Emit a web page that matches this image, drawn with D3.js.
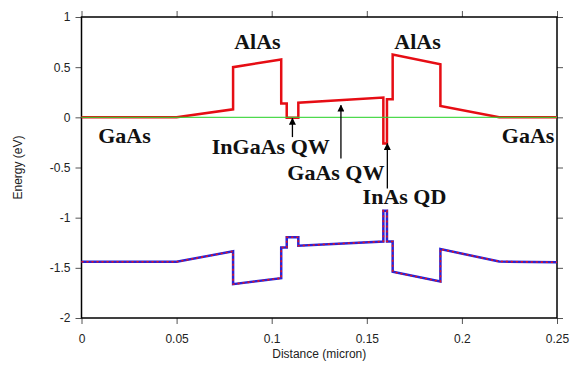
<!DOCTYPE html>
<html>
<head>
<meta charset="utf-8">
<script src="https://cdn.jsdelivr.net/npm/d3@7"></script>
<style>
  body { margin: 0; background: #fff; }
  svg { display: block; }
  .tick text { font-family: "Liberation Sans", Arial, sans-serif; font-size: 12px; fill: #222; }
  .note { font-family: "Liberation Serif", "Times New Roman", serif; font-weight: bold; font-size: 22px; fill: #111; }
</style>
</head>
<body>
<svg width="582" height="366"></svg>
<script>
// band edge break points (distance in micron, energy in eV)
const cbX = [0, 0.05, 0.0797, 0.0797, 0.105, 0.105, 0.1079, 0.1079, 0.114, 0.114, 0.1587, 0.1587, 0.1606, 0.1606, 0.1636, 0.1636, 0.1887, 0.1887, 0.2196, 0.25];
const cbE = [0, 0, 0.08, 0.50, 0.577, 0.137, 0.137, -0.003, -0.003, 0.145, 0.197, -0.26, -0.26, 0.18, 0.18, 0.625, 0.53, 0.113, 0, 0];
const vbX = cbX;
const vbE = [-1.44, -1.44, -1.335, -1.663, -1.603, -1.298, -1.298, -1.195, -1.195, -1.28, -1.237, -0.93, -0.93, -1.237, -1.237, -1.54, -1.637, -1.313, -1.437, -1.445];

const xTicks = [0, 0.05, 0.1, 0.15, 0.2, 0.25];
const yTicks = [1, 0.5, 0, -0.5, -1, -1.5, -2];

const labels = ["AlAs", "AlAs", "GaAs", "GaAs", "InGaAs QW", "GaAs QW", "InAs QD"];
const labelX = [0.0925, 0.1767, 0.0226, 0.2348, 0.0685, 0.1082, 0.1478];
const labelE = [0.68, 0.68, -0.26, -0.26, -0.362, -0.629, -0.861];
const labelAnchor = ["middle", "middle", "middle", "middle", "start", "start", "start"];

const arrowX = [0.1109, 0.1364, 0.1608];
const arrowFrom = [-0.197, -0.41, -0.71];
const arrowTo = [-0.01, 0.12, -0.262];

const svg = d3.select("svg");
const margin = {top: 17, right: 25, bottom: 48, left: 81.5};
const width = 582 - margin.right;
const height = 366 - margin.bottom;

const x = d3.scaleLinear().domain([0, 0.25]).range([margin.left, width]);
const y = d3.scaleLinear().domain([-2, 1]).range([height, margin.top]);

const fmt = d => String(d);

// axes, ticks pointing outward on all four sides
svg.append("g")
    .attr("transform", `translate(0,${height})`)
    .call(d3.axisBottom(x).tickValues(xTicks).tickFormat(fmt).tickSize(6).tickPadding(10))
    .call(g => g.select(".domain").remove());
svg.append("g")
    .attr("transform", `translate(0,${margin.top})`)
    .call(d3.axisTop(x).tickValues(xTicks).tickFormat("").tickSize(6))
    .call(g => g.select(".domain").remove());
svg.append("g")
    .attr("transform", `translate(${margin.left},0)`)
    .call(d3.axisLeft(y).tickValues(yTicks).tickFormat(fmt).tickSize(6).tickPadding(5))
    .call(g => g.select(".domain").remove());
svg.append("g")
    .attr("transform", `translate(${width},0)`)
    .call(d3.axisRight(y).tickValues(yTicks).tickFormat("").tickSize(6))
    .call(g => g.select(".domain").remove());
svg.selectAll(".tick line").attr("stroke", "#555");

svg.append("rect")
    .attr("x", margin.left).attr("y", margin.top)
    .attr("width", width - margin.left).attr("height", height - margin.top)
    .attr("fill", "none").attr("stroke", "#000").attr("stroke-width", 1.5);

svg.append("text")
    .attr("transform", `translate(22,${(margin.top + height) / 2}) rotate(-90)`)
    .attr("text-anchor", "middle")
    .style("font", "12px 'Liberation Sans', Arial, sans-serif")
    .attr("fill", "#222")
    .text("Energy (eV)");

svg.append("text")
    .attr("x", (margin.left + width) / 2).attr("y", 358)
    .attr("text-anchor", "middle")
    .style("font", "12px 'Liberation Sans', Arial, sans-serif")
    .attr("fill", "#222")
    .text("Distance (micron)");

const line = d3.line().x(d => x(d[0])).y(d => y(d[1]));
const cb = cbX.map((v, i) => [v, cbE[i]]);
const vb = vbX.map((v, i) => [v, vbE[i]]);

svg.append("path").datum(cb).attr("d", line)
    .attr("fill", "none").attr("stroke", "#e60d14").attr("stroke-width", 2.5);

svg.append("path").datum(vb).attr("d", line)
    .attr("fill", "none").attr("stroke", "#2a22d6").attr("stroke-width", 2.5);
svg.append("path").datum(vb).attr("d", line)
    .attr("fill", "none").attr("stroke", "#e8141c").attr("stroke-width", 1.6)
    .attr("stroke-dasharray", "2,3");

// Fermi level
svg.append("path").datum([[0, 0], [0.25, 0]]).attr("d", line)
    .attr("fill", "none").attr("stroke", "#2fd42f").attr("stroke-width", 1.3)
    .attr("stroke-opacity", 0.85);

svg.selectAll(".note").data(labels).join("text")
    .attr("class", "note")
    .attr("x", (d, i) => x(labelX[i]))
    .attr("y", (d, i) => y(labelE[i]))
    .attr("text-anchor", (d, i) => labelAnchor[i])
    .text(d => d);

svg.append("defs").append("marker")
    .attr("id", "head").attr("viewBox", "0 0 10 10")
    .attr("refX", 9).attr("refY", 5)
    .attr("markerWidth", 7).attr("markerHeight", 7)
    .attr("markerUnits", "userSpaceOnUse")
    .attr("orient", "auto")
    .append("path").attr("d", "M0,0L10,5L0,10Z").attr("fill", "#000");

svg.selectAll(".arrow").data(arrowX).join("line")
    .attr("class", "arrow")
    .attr("x1", d => x(d)).attr("x2", d => x(d))
    .attr("y1", (d, i) => y(arrowFrom[i]))
    .attr("y2", (d, i) => y(arrowTo[i]))
    .attr("stroke", "#000").attr("stroke-width", 1.3)
    .attr("marker-end", "url(#head)");
</script>
</body>
</html>
